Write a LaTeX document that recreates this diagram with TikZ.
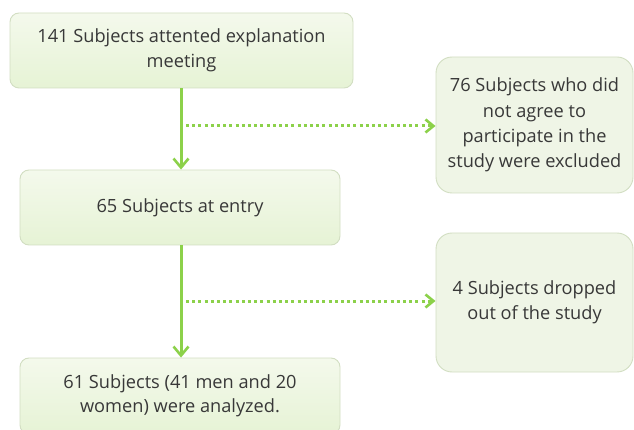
\documentclass[tikz,border=0pt]{standalone}
\usepackage{fontspec}
\setmainfont{Open Sans}
\usetikzlibrary{arrows.meta}
\definecolor{boxborder}{HTML}{D2DEC2}
\definecolor{boxtop}{HTML}{F4F9EC}
\definecolor{boxbot}{HTML}{E6F3D5}
\definecolor{sidefill}{HTML}{EFF5E6}
\definecolor{arrowgreen}{HTML}{8CD14A}
\definecolor{txt}{HTML}{383838}
\tikzset{
  mainbox/.style={draw=boxborder, line width=0.9pt, rounded corners=9pt, top color=boxtop, bottom color=boxbot,
    text=txt, font=\fontsize{18.2}{24.5}\selectfont, align=center, inner sep=0pt},
  sidebox/.style={draw=boxborder, line width=0.9pt, rounded corners=16pt, fill=sidefill,
    text=txt, font=\fontsize{18.2}{25.3}\selectfont, align=center, inner sep=0pt},
  flow/.style={draw=arrowgreen, line width=3pt, -{Straight Barb[length=9pt,width=15pt,line width=2.6pt]}},
  excl/.style={draw=arrowgreen, line width=3pt, dash pattern=on 3pt off 3.2pt, -{Straight Barb[length=8pt,width=13pt,line width=2.6pt]}}
}
\begin{document}
\begin{tikzpicture}[x=1pt,y=1pt]
\useasboundingbox (0,0) rectangle (634,-430);
\clip (0,0) rectangle (634,-430);
\node[mainbox, minimum width=343pt, minimum height=75pt] (a) at (181.5,-50.5) {141 Subjects attented explanation\\meeting};
\node[mainbox, minimum width=320pt, minimum height=75pt] (b) at (180,-207.5) {65 Subjects at entry};
\node[mainbox, minimum width=320pt, minimum height=76pt] (c) at (180,-396) {61 Subjects (41 men and 20\\women) were analyzed.};
\node[sidebox, minimum width=197pt, minimum height=136pt] (d) at (534.5,-125) {76 Subjects who did\\not agree to\\participate in the\\study were excluded};
\node[sidebox, minimum width=197pt, minimum height=139pt] (e) at (534.5,-302.5) {4 Subjects dropped\\out of the study};
\draw[flow] (a.south -| 181,0) -- (b.north -| 181,0);
\draw[flow] (b.south -| 181,0) -- (c.north -| 181,0);
\coordinate (j1) at (186,-126);
\coordinate (j2) at (186,-301);
\draw[excl] (j1) -- (j1 -| d.west);
\draw[excl] (j2) -- (j2 -| e.west);
\end{tikzpicture}
\end{document}
